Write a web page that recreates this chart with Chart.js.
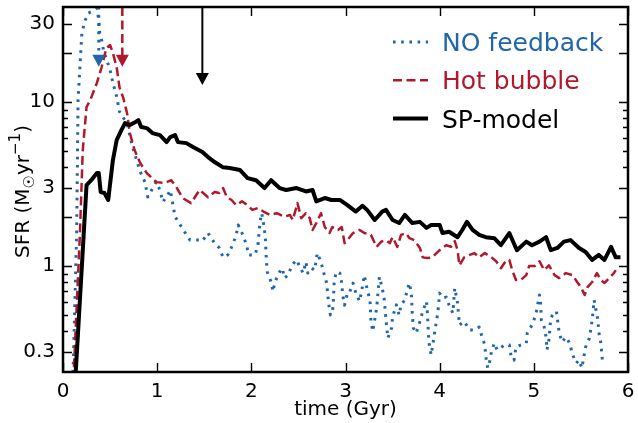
<!DOCTYPE html>
<html>
<head>
<meta charset="utf-8">
<script src="https://cdn.jsdelivr.net/npm/chart.js@4.4.1/dist/chart.umd.min.js"></script>
<style>
  html, body { margin: 0; padding: 0; background: #fff; }
  #wrap { width: 638px; height: 423px; }
</style>
</head>
<body>
<div id="wrap"><canvas id="sfrChart" width="638" height="423"></canvas></div>
<script>
// [time (Gyr), SFR (Msun/yr)]
const noFeedback = [
  [0.10,0.20],[0.11,0.26],[0.145,1.59],[0.16,10.3],[0.20,26.1],[0.23,31.0],[0.27,34.9],[0.32,36.0],[0.36,37.4],
  [0.38,31.6],[0.39,26.3],[0.41,23.9],[0.43,20.7],[0.50,15.7],[0.53,13.1],[0.57,10.8],[0.60,8.73],[0.68,7.4],
  [0.74,5.3],[0.82,3.76],[0.87,3.26],[0.90,2.64],[0.99,3.26],[1.03,2.9],[1.06,2.46],[1.10,2.65],[1.14,2.9],
  [1.19,2.0],[1.29,1.62],[1.35,1.44],[1.45,1.44],[1.48,1.42],[1.54,1.59],[1.61,1.38],[1.66,1.29],[1.70,1.13],
  [1.75,1.17],[1.80,1.34],[1.84,1.55],[1.86,1.78],[1.91,1.55],[1.95,1.34],[1.97,1.17],[2.04,1.17],[2.07,1.34],
  [2.08,1.55],[2.09,1.83],[2.11,2.10],[2.12,1.96],[2.14,1.66],[2.15,1.44],[2.16,1.07],[2.17,0.92],[2.21,0.80],
  [2.23,0.70],[2.25,0.80],[2.30,0.92],[2.33,0.97],[2.35,0.845],[2.39,0.88],[2.43,1.01],[2.48,1.09],[2.51,1.0],
  [2.55,0.906],[2.58,1.06],[2.60,0.906],[2.64,0.972],[2.67,0.945],[2.69,1.09],[2.70,1.20],[2.74,1.06],[2.77,0.906],
  [2.80,0.788],[2.81,0.684],[2.82,0.595],[2.84,0.503],[2.86,0.517],[2.87,0.595],[2.88,0.80],[2.90,0.92],[2.94,0.906],
  [2.96,0.788],[2.97,0.666],[2.99,0.578],[3.02,0.684],[3.04,0.684],[3.08,0.788],[3.11,0.684],[3.15,0.61],[3.18,0.75],
  [3.20,0.88],[3.23,0.72],[3.26,0.621],[3.27,0.46],[3.29,0.40],[3.31,0.47],[3.33,0.55],[3.36,0.86],[3.39,0.734],
  [3.41,0.638],[3.43,0.47],[3.45,0.364],[3.49,0.42],[3.50,0.49],[3.54,0.58],[3.57,0.503],[3.59,0.58],[3.63,0.621],
  [3.66,0.734],[3.68,0.788],[3.70,0.666],[3.71,0.503],[3.72,0.42],[3.75,0.39],[3.79,0.46],[3.82,0.53],[3.86,0.61],
  [3.87,0.517],[3.88,0.39],[3.89,0.33],[3.91,0.287],[3.94,0.37],[3.96,0.44],[3.98,0.517],[4.00,0.684],[4.03,0.638],
  [4.07,0.647],[4.10,0.578],[4.14,0.517],[4.16,0.734],[4.17,0.684],[4.19,0.595],[4.21,0.437],[4.26,0.46],[4.32,0.407],
  [4.37,0.407],[4.42,0.425],[4.45,0.369],[4.48,0.33],[4.49,0.28],[4.51,0.239],[4.53,0.26],[4.55,0.30],[4.58,0.339],
  [4.61,0.308],[4.69,0.33],[4.74,0.33],[4.76,0.279],[4.79,0.267],[4.81,0.32],[4.86,0.33],[4.92,0.339],[4.93,0.39],
  [4.98,0.437],[5.02,0.503],[5.04,0.578],[5.06,0.666],[5.07,0.621],[5.08,0.469],[5.11,0.425],[5.13,0.369],[5.14,0.308],
  [5.16,0.354],[5.18,0.482],[5.20,0.503],[5.24,0.53],[5.27,0.39],[5.30,0.344],[5.34,0.369],[5.38,0.339],[5.41,0.29],
  [5.45,0.256],[5.48,0.267],[5.51,0.239],[5.55,0.321],[5.59,0.364],[5.62,0.469],[5.64,0.621],[5.66,0.539],[5.68,0.469],
  [5.69,0.396],[5.71,0.344],[5.72,0.30],[5.73,0.26]
];

const hotBubble = [
  [0.11,0.20],[0.18,1.59],[0.21,5.10],[0.25,9.33],[0.29,10.3],[0.36,13.1],[0.41,16.3],[0.46,21.3],[0.50,22.3],
  [0.53,19.9],[0.57,16.3],[0.60,12.3],[0.64,10.6],[0.68,8.57],[0.71,6.47],[0.76,5.10],[0.82,4.25],[0.89,3.69],
  [0.99,3.25],[1.08,3.21],[1.15,3.34],[1.21,2.99],[1.27,2.60],[1.36,2.42],[1.45,2.91],[1.54,2.63],[1.61,2.83],
  [1.66,2.79],[1.70,2.99],[1.74,2.63],[1.79,2.53],[1.84,2.35],[1.90,2.48],[1.96,2.35],[2.01,2.20],[2.07,2.26],
  [2.14,2.13],[2.20,2.05],[2.27,2.10],[2.35,2.0],[2.41,2.05],[2.44,1.91],[2.49,2.42],[2.53,1.96],[2.58,2.10],
  [2.62,1.96],[2.65,1.66],[2.69,1.83],[2.74,2.10],[2.78,1.73],[2.83,1.59],[2.86,1.73],[2.92,1.66],[2.96,1.73],
  [2.99,1.38],[3.02,1.44],[3.08,1.59],[3.15,1.66],[3.20,1.59],[3.27,1.55],[3.33,1.31],[3.38,1.41],[3.43,1.44],
  [3.47,1.38],[3.50,1.50],[3.55,1.31],[3.59,1.55],[3.64,1.59],[3.68,1.48],[3.73,1.44],[3.79,1.29],[3.82,1.13],
  [3.87,1.12],[3.92,1.13],[4.00,1.25],[4.07,1.34],[4.12,1.31],[4.16,1.42],[4.19,1.25],[4.21,1.01],[4.26,1.13],
  [4.32,1.17],[4.37,1.20],[4.42,1.13],[4.48,1.20],[4.55,1.13],[4.60,1.07],[4.65,0.97],[4.70,1.07],[4.74,1.09],
  [4.77,0.945],[4.81,0.822],[4.86,0.822],[4.92,0.881],[4.95,1.0],[5.01,1.0],[5.06,1.07],[5.11,0.945],[5.16,1.01],
  [5.22,0.881],[5.27,0.845],[5.34,0.906],[5.41,0.881],[5.46,0.80],[5.50,0.744],[5.54,0.666],[5.57,0.744],[5.62,0.80],
  [5.67,0.906],[5.71,0.822],[5.75,0.788],[5.80,0.845],[5.85,0.906],[5.87,0.945]
];

const spModel = [
  [0.13,0.20],[0.25,3.12],[0.30,3.34],[0.36,3.69],[0.38,3.69],[0.40,2.83],[0.44,2.79],[0.48,2.53],[0.53,4.43],
  [0.57,5.86],[0.62,6.75],[0.66,7.45],[0.71,7.24],[0.76,7.5],[0.80,7.77],[0.83,7.04],[0.89,6.94],[0.95,6.47],
  [1.03,6.29],[1.10,5.70],[1.14,6.12],[1.19,6.29],[1.22,5.70],[1.31,5.62],[1.38,5.32],[1.48,4.96],[1.54,4.62],
  [1.61,4.31],[1.70,4.0],[1.77,3.96],[1.88,3.85],[1.96,3.44],[2.05,3.34],[2.14,2.99],[2.21,3.34],[2.30,2.99],
  [2.37,2.91],[2.48,2.99],[2.58,2.85],[2.65,2.91],[2.69,2.48],[2.78,2.60],[2.85,2.53],[2.94,2.53],[3.02,2.35],
  [3.11,2.15],[3.18,2.33],[3.23,2.20],[3.31,1.91],[3.39,2.15],[3.43,2.20],[3.50,1.91],[3.57,1.83],[3.63,2.05],
  [3.71,1.83],[3.79,1.86],[3.86,1.71],[3.91,1.78],[4.00,1.78],[4.03,1.59],[4.10,1.62],[4.19,1.50],[4.24,1.66],
  [4.29,1.86],[4.35,1.66],[4.42,1.55],[4.49,1.50],[4.58,1.48],[4.65,1.34],[4.74,1.59],[4.82,1.25],[4.92,1.41],
  [4.98,1.34],[5.06,1.41],[5.13,1.50],[5.18,1.25],[5.25,1.29],[5.32,1.41],[5.39,1.44],[5.48,1.29],[5.55,1.22],
  [5.62,1.09],[5.69,1.17],[5.75,1.09],[5.82,1.31],[5.87,1.13],[5.92,1.13]
];

const seriesNames = ['NO feedback', 'Hot bubble', 'SP-model'];
const seriesColors = ['#2166ac', '#b2182b', '#000000'];

// arrows: time of marker and SFR of arrow tip
const arrowTimes = [0.38, 0.63, 1.48];
const arrowTips = [16.4, 16.4, 12.7];

const xTickValues = [0, 1, 2, 3, 4, 5, 6];
const yTickLabels = [0.3, 1, 3, 10, 30];
const yMajorMarks = [0.3, 1, 2, 3, 10, 20, 30];
const yMinorMarks = [0.4, 0.5, 0.6, 0.7, 0.8, 0.9, 4, 5, 6, 7, 8, 9];

const FONT = "'DejaVu Sans', sans-serif";
Chart.defaults.font.family = FONT;
Chart.defaults.color = '#000';

const dashes = [[2.6, 5.6], [9, 4.5], []];
const widths = [3, 2.5, 4];

function toPoints(list) {
  return list.map(p => ({ x: p[0], y: p[1] }));
}

// ticks pointing inward on all four sides, plus the box
const framePlugin = {
  id: 'frame',
  afterDraw(chart) {
    const { ctx, chartArea: a, scales: { x, y } } = chart;
    ctx.save();
    ctx.strokeStyle = '#000';
    ctx.lineWidth = 1.4;
    ctx.beginPath();
    xTickValues.forEach(v => {
      const px = Math.round(x.getPixelForValue(v)) + 0.5;
      ctx.moveTo(px, a.bottom); ctx.lineTo(px, a.bottom - 9);
      ctx.moveTo(px, a.top); ctx.lineTo(px, a.top + 9);
    });
    yMajorMarks.forEach(v => {
      const py = Math.round(y.getPixelForValue(v)) + 0.5;
      ctx.moveTo(a.left, py); ctx.lineTo(a.left + 9, py);
      ctx.moveTo(a.right, py); ctx.lineTo(a.right - 9, py);
    });
    yMinorMarks.forEach(v => {
      const py = Math.round(y.getPixelForValue(v)) + 0.5;
      ctx.moveTo(a.left, py); ctx.lineTo(a.left + 5, py);
      ctx.moveTo(a.right, py); ctx.lineTo(a.right - 5, py);
    });
    ctx.stroke();
    ctx.lineWidth = 2.5;
    ctx.strokeRect(a.left, a.top, a.right - a.left, a.bottom - a.top);

    // y axis title with sub/superscripts
    const parts = [
      { t: 'SFR (M', s: 20, dy: 0 },
      { t: '\u2609', s: 15, dy: 5 },
      { t: 'yr', s: 20, dy: 0 },
      { t: '\u22121', s: 15, dy: -9 },
      { t: ')', s: 20, dy: 0 }
    ];
    let total = 0;
    parts.forEach(p => { ctx.font = p.s + 'px ' + FONT; p.w = ctx.measureText(p.t).width; total += p.w; });
    ctx.translate(29, (a.top + a.bottom) / 2 + 2);
    ctx.rotate(-Math.PI / 2);
    ctx.fillStyle = '#000';
    ctx.textBaseline = 'alphabetic';
    let cx = -total / 2;
    parts.forEach(p => {
      ctx.font = p.s + 'px ' + FONT;
      ctx.fillText(p.t, cx, p.dy);
      cx += p.w;
    });
    ctx.restore();
  }
};

const arrowPlugin = {
  id: 'arrows',
  afterDatasetsDraw(chart) {
    const { ctx, chartArea: a, scales: { x, y } } = chart;
    ctx.save();
    arrowTimes.forEach((t, i) => {
      const px = x.getPixelForValue(t);
      const tip = y.getPixelForValue(arrowTips[i]);
      ctx.strokeStyle = seriesColors[i];
      ctx.fillStyle = seriesColors[i];
      ctx.lineWidth = i === 2 ? 2 : widths[i];
      ctx.setLineDash(dashes[i]);
      ctx.beginPath();
      ctx.moveTo(px, a.top);
      ctx.lineTo(px, tip - 10);
      ctx.stroke();
      ctx.setLineDash([]);
      ctx.beginPath();
      ctx.moveTo(px - 6.5, tip - 12);
      ctx.lineTo(px + 6.5, tip - 12);
      ctx.lineTo(px, tip);
      ctx.closePath();
      ctx.fill();
    });
    ctx.restore();
  }
};

const legendPlugin = {
  id: 'legendInside',
  afterDraw(chart) {
    const { ctx, chartArea: a } = chart;
    ctx.save();
    ctx.font = '25px ' + FONT;
    ctx.textBaseline = 'alphabetic';
    seriesNames.forEach((name, i) => {
      const ly = a.top + 35 + i * 38.3;
      ctx.strokeStyle = seriesColors[i];
      ctx.lineWidth = widths[i];
      ctx.setLineDash(dashes[i]);
      ctx.beginPath();
      ctx.moveTo(a.right - 235, ly);
      ctx.lineTo(a.right - 200, ly);
      ctx.stroke();
      ctx.setLineDash([]);
      ctx.fillStyle = seriesColors[i];
      ctx.fillText(name, a.right - 186, ly + 9);
    });
    ctx.restore();
  }
};

const allSeries = [noFeedback, hotBubble, spModel];

new Chart(document.getElementById('sfrChart').getContext('2d'), {
  type: 'line',
  data: {
    datasets: allSeries.map((s, i) => ({
      label: seriesNames[i],
      data: toPoints(s),
      borderColor: seriesColors[i],
      borderWidth: widths[i],
      borderDash: dashes[i],
      borderCapStyle: 'butt',
      borderJoinStyle: 'round',
      pointRadius: 0,
      tension: 0,
      fill: false,
      clip: 0,
      order: 2 - i
    }))
  },
  options: {
    responsive: false,
    animation: false,
    events: [],
    layout: { padding: { top: 7, right: 10, left: 0, bottom: 0 } },
    plugins: { legend: { display: false }, tooltip: { enabled: false } },
    scales: {
      x: {
        type: 'linear',
        min: 0,
        max: 6,
        grid: { display: false, drawTicks: false },
        border: { display: false },
        afterBuildTicks: s => { s.ticks = xTickValues.map(v => ({ value: v })); },
        ticks: { font: { size: 20 }, padding: 8, maxRotation: 0, callback: v => String(v) },
        title: { display: true, text: 'time (Gyr)', font: { size: 20 }, padding: { top: 0, bottom: 1 } },
        afterFit: s => { s.height = 51; s.paddingLeft = 0; s.paddingRight = 0; }
      },
      y: {
        type: 'logarithmic',
        min: 0.226,
        max: 38,
        grid: { display: false, drawTicks: false },
        border: { display: false },
        afterBuildTicks: s => { s.ticks = yTickLabels.map(v => ({ value: v })); },
        ticks: { font: { size: 20 }, padding: 8, callback: v => String(v) },
        afterFit: s => { s.width = 63; s.paddingTop = 0; s.paddingBottom = 0; }
      }
    }
  },
  plugins: [arrowPlugin, framePlugin, legendPlugin]
});
</script>
</body>
</html>
